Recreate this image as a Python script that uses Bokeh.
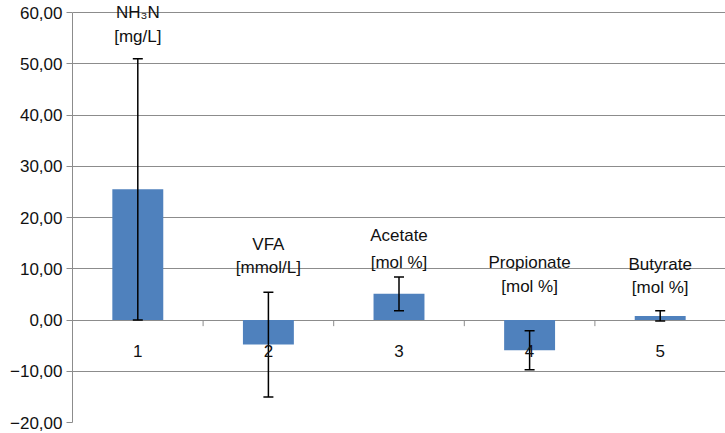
from bokeh.plotting import figure
from bokeh.models import ColumnDataSource, Whisker, TeeHead, Range1d, CustomJSTickFormatter, FixedTicker, LabelSet
from bokeh.core.properties import value
from bokeh.embed import file_html
from bokeh.resources import INLINE

# ---- data ----
categories = ["1", "2", "3", "4", "5"]
means = [25.5, -4.8, 5.1, -5.9, 0.8]
sds = [25.5, 10.2, 3.3, 3.8, 1.0]
label_line1 = ["NH\u2083N", "VFA", "Acetate", "Propionate", "Butyrate"]
label_line2 = ["[mg/L]", "[mmol/L]", "[mol %]", "[mol %]", "[mol %]"]
label_y1 = [60.0, 14.8, 16.4, 11.3, 10.9]
label_y2 = [55.3, 10.2, 11.3, 6.6, 6.4]
y_ticks = [-20, -10, 0, 10, 20, 30, 40, 50, 60]

FONT = "Liberation Sans"
FS = "17px"
xs = list(range(1, len(categories) + 1))

src = ColumnDataSource(dict(
    x=xs, mean=means,
    upper=[m + s for m, s in zip(means, sds)],
    lower=[m - s for m, s in zip(means, sds)],
    cat=categories,
))
lab_src = ColumnDataSource(dict(x=xs, y1=label_y1, y2=label_y2, t1=label_line1, t2=label_line2))

p = figure(width=725, height=433, output_backend="svg", toolbar_location=None,
           x_range=Range1d(0.5, len(categories) + 0.5), y_range=Range1d(-20, 62.15),
           min_border_left=72, min_border_right=0, min_border_top=1, min_border_bottom=11)
p.outline_line_color = None
p.xaxis.visible = False
p.xgrid.visible = False
p.ygrid.grid_line_color = "#8c8c8c"
p.ygrid.grid_line_width = 1
p.ygrid.ticker = FixedTicker(ticks=y_ticks)

ax = p.yaxis[0]
ax.ticker = FixedTicker(ticks=y_ticks)
ax.bounds = (y_ticks[0], y_ticks[-1])
ax.formatter = CustomJSTickFormatter(code="return tick.toFixed(2).replace('.', ',').replace('-', '\u2212');")
ax.axis_line_color = "#8c8c8c"
ax.major_tick_line_color = "#8c8c8c"
ax.major_tick_out = 6
ax.major_tick_in = 0
ax.minor_tick_line_color = None
ax.major_label_text_font = FONT
ax.major_label_text_font_size = FS
ax.major_label_text_color = "#111111"
ax.major_label_standoff = 4

# bars
p.vbar(x="x", top="mean", bottom=0, width=0.39, source=src,
       fill_color="#4f81bd", line_color=None)

# category boundary ticks at zero line
bx = [i + 0.5 for i in range(1, len(categories))]
p.segment(x0=bx, y0=[0] * len(bx), x1=bx, y1=[-1.2] * len(bx), line_color="#8c8c8c", line_width=1)

# error bars
w = Whisker(base="x", upper="upper", lower="lower", source=src,
            line_color="black", line_width=1.5, level="overlay",
            upper_head=TeeHead(size=10, line_color="black", line_width=1.5),
            lower_head=TeeHead(size=10, line_color="black", line_width=1.5))
p.add_layout(w)

# category labels along zero line
p.add_layout(LabelSet(x="x", y=-6.1, text="cat", source=src, text_font=value(FONT), text_font_size=FS,
                      text_align="center", text_baseline="middle", text_color="#111111", level="overlay"))

# measurement labels
for ycol, tcol in (("y1", "t1"), ("y2", "t2")):
    p.add_layout(LabelSet(x="x", y=ycol, text=tcol, source=lab_src, text_font=value(FONT), text_font_size=FS,
                          text_align="center", text_baseline="middle", text_color="#111111", level="overlay"))

open("out.html", "w").write(file_html(p, INLINE))
